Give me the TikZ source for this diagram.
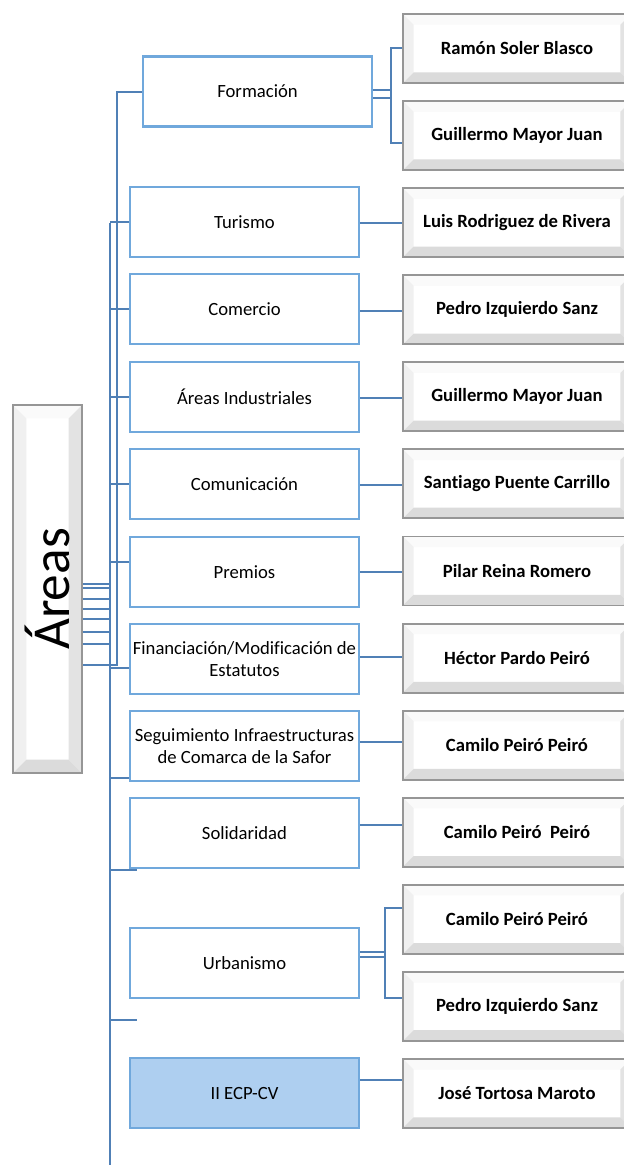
\documentclass[tikz,border=0pt]{standalone}
\usepackage{fontspec}
\setmainfont[Ligatures=NoCommon]{Carlito}
\usepackage{graphicx}
\usepackage{tikz}
\usetikzlibrary{positioning}
\definecolor{boxblue}{RGB}{112,168,220}
\definecolor{linkblue}{RGB}{80,128,182}
\definecolor{ecpblue}{RGB}{174,207,240}
\definecolor{bevelgray}{RGB}{150,150,150}
\newcommand\bevelfaces[1]{%
  \coordinate (bnw) at (path picture bounding box.north west);
  \coordinate (bne) at (path picture bounding box.north east);
  \coordinate (bsw) at (path picture bounding box.south west);
  \coordinate (bse) at (path picture bounding box.south east);
  \fill [black!2] (bnw) -- (bne) -- ([shift={(-#1, -#1)}]bne) -- ([shift={(#1, -#1)}]bnw) -- cycle;
  \fill [black!6] (bnw) -- ([shift={(#1, -#1)}]bnw) -- ([shift={(#1, #1)}]bsw) -- (bsw) -- cycle;
  \fill [black!11] (bne) -- (bse) -- ([shift={(-#1, #1)}]bse) -- ([shift={(-#1, -#1)}]bne) -- cycle;
  \fill [black!14] (bsw) -- (bse) -- ([shift={(-#1, #1)}]bse) -- ([shift={(#1, #1)}]bsw) -- cycle;}
\tikzset{area/.style = {draw=boxblue, line width=1.8pt, fill=white, inner sep=0pt,
                        minimum width=171.75pt, minimum height=52.5pt, align=center,
                        font=\fontsize{14}{16.5}\selectfont},
         person/.style = {draw=bevelgray, line width=1.4pt, fill=white,
                          minimum width=171pt, minimum height=51.75pt,
                          font=\fontsize{14}{16.5}\selectfont\bfseries,
                          path picture={\bevelfaces{8pt}}},
         header/.style = {draw=bevelgray, line width=1.4pt, fill=white, inner sep=0pt,
                          minimum width=51.75pt, minimum height=276pt,
                          path picture={\bevelfaces{10pt}}},
         link/.style = {draw=linkblue, line width=2.2pt}}

\begin{document}
\begin{tikzpicture}[x=0.75pt, y=-0.75pt]
      \useasboundingbox (0, 0) rectangle (624, 1165);
      \clip (0, 0) rectangle (624, 1165);

      \node [header] (areas) at (47.5, 589) {\rotatebox{90}{\fontsize{40}{40}\selectfont Áreas}};

      \node [area] (formacion) at (257.5, 91.5) {Formación};
      \node [area] (turismo) at (244.5, 222) {Turismo};
      \node [area] (comercio) at (244.5, 309) {Comercio};
      \node [area] (industria) at (244.5, 397) {Áreas Industriales};
      \node [area] (comunic) at (244.5, 484) {Comunicación};
      \node [area] (premios) at (244.5, 572) {Premios};
      \node [area] (financ) at (244.5, 659) {Financiación/Modificación de\\Estatutos};
      \node [area] (seguim) at (244.5, 746) {Seguimiento Infraestructuras\\de Comarca de la Safor};
      \node [area] (solidar) at (244.5, 833) {Solidaridad};
      \node [area] (urban) at (244.5, 963) {Urbanismo};
      \node [area, fill=ecpblue] (ecp) at (244.5, 1093) {II ECP-CV};

      \foreach \k/\who in {1/Ramón Soler Blasco, 2/Guillermo Mayor Juan, 3/Luis Rodriguez de Rivera,
                           4/Pedro Izquierdo Sanz, 5/Guillermo Mayor Juan, 6/Santiago Puente Carrillo,
                           7/Pilar Reina Romero, 8/Héctor Pardo Peiró, 9/Camilo Peiró Peiró,
                           10/Camilo Peiró\ \ Peiró, 11/Camilo Peiró Peiró, 12/Pedro Izquierdo Sanz,
                           13/José Tortosa Maroto}
        \node [person] (r\k) at (517, {48.5 + 87.08*(\k - 1)}) {\who};

      \coordinate (spine) at (110, 223);
      \coordinate (spine end) at (110, 1165);
      \coordinate (spineB) at (117, 92);
      \coordinate (forkA) at (391, 94);
      \coordinate (forkB) at (385, 955);

      \draw [link] (spine) -- (spine end);
      \draw [link] (formacion.west |- spineB) -- (spineB) -- (spineB |- 0, 665) -- (areas.east |- 0, 665);
      \foreach \yy in {584, 588, 599, 609, 619, 632, 644}
        \draw [link] (areas.east |- 0, \yy) -- (spine |- 0, \yy);
      \foreach \nm in {turismo, comercio, industria, comunic}
        \draw [link] (spine |- \nm.west) -- (\nm.west);
      \draw [link] (spine |- 0, 562) -- (premios.west |- 0, 562);
      \draw [link] (spine |- 0, 668) -- (financ.west |- 0, 668);
      \draw [link] (spine |- 0, 778) -- (seguim.west |- 0, 778);
      \draw [link] (spine |- 0, 870) -- ++(27, 0);
      \draw [link] (spine |- 0, 1020) -- ++(27, 0);

      \draw [link] (formacion.east |- 0, 90) -- (forkA |- 0, 90);
      \draw [link] (formacion.east |- 0, 98) -- (forkA |- 0, 98);
      \draw [link] (r1.west |- 0, 48) -| (forkA |- 0, 143) -- (r2.west |- 0, 143);
      \foreach \nm/\k/\yy in {turismo/3/223, comercio/4/311, industria/5/398, comunic/6/485,
                              premios/7/572, financ/8/657, seguim/9/742, solidar/10/825, ecp/13/1080}
        \draw [link] (\nm.east |- 0, \yy) -- (r\k.west |- 0, \yy);
      \draw [link] (urban.east |- 0, 952) -- (forkB |- 0, 952);
      \draw [link] (urban.east |- 0, 957) -- (forkB |- 0, 957);
      \draw [link] (r11.west |- 0, 908) -| (forkB |- 0, 998) -- (r12.west |- 0, 998);
\end{tikzpicture}
\end{document}
